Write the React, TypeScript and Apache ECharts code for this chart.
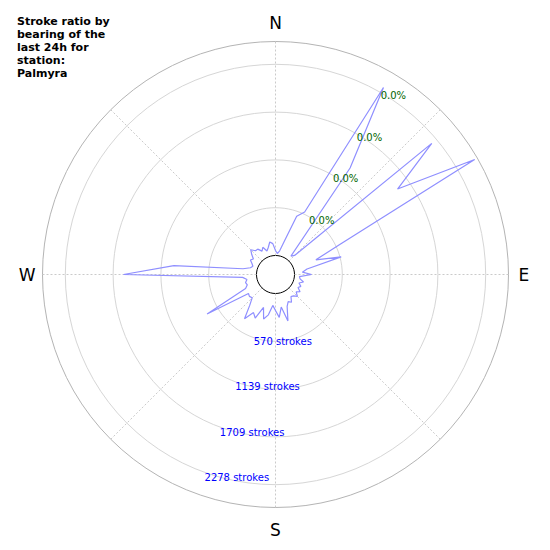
import { useEffect, useRef } from 'react';
import * as echarts from 'echarts';

// chart texts
const titleText = 'Stroke ratio by\nbearing of the\nlast 24h for\nstation:\nPalmyra';
const compassLabels: Record<number, string> = { 0: 'N', 90: 'E', 180: 'S', 270: 'W' };

// bearing bins (degrees, clockwise from north)
const bearings = [
  0, 5, 10, 15, 20, 25, 30, 35, 40, 45, 50, 55,
  60, 65, 70, 75, 80, 85, 90, 95, 100, 105, 110, 115,
  120, 125, 130, 135, 140, 145, 150, 155, 160, 165, 170, 175,
  180, 185, 190, 195, 200, 205, 210, 215, 220, 225, 230, 235,
  240, 245, 250, 255, 260, 265, 270, 275, 280, 285, 290, 295,
  300, 305, 310, 315, 320, 325, 330, 335, 340, 345, 350, 355,
];

// strokes per bin
const strokes = [
  60, 24, 60, 191, 512, 596, 2347, 1323, 60, 95, 2204, 1549,
  2514, 608, 286, 584, 155, 95, 203, 60, 71, 119, 71, 107,
  83, 131, 95, 143, 107, 95, 155, 131, 179, 346, 167, 286,
  203, 143, 262, 322, 191, 346, 298, 417, 250, 167, 179, 167,
  715, 167, 131, 143, 119, 167, 1585, 989, 167, 83, 60, 83,
  119, 95, 143, 191, 143, 143, 95, 131, 71, 107, 167, 143,
];

// radial rings
const ringValues = [569.5, 1139, 1708.5, 2278];
const ringPercents = ['0.0%', '0.0%', '0.0%', '0.0%'];
const radiusMax = 2550;
const ringStep = 569.5;

const compassStyle = { fontSize: 17, color: '#000', fontFamily: 'DejaVu Sans' };

export default function App() {
  const box = useRef<HTMLDivElement>(null);

  useEffect(() => {
    if (!box.current) return;
    const chart = echarts.init(box.current, null, { renderer: 'svg' });

    const outline = bearings.map((b, i) => [strokes[i], b]);
    outline.push([strokes[0], 360]);

    chart.setOption({
      animation: false,
      textStyle: { fontFamily: 'DejaVu Sans' },
      title: {
        text: titleText,
        left: 12,
        top: 10,
        textStyle: { fontSize: 11, fontWeight: 'bold', lineHeight: 13, color: '#000' },
      },
      polar: { center: [275.5, 274.5], radius: [19, 233] },
      angleAxis: {
        type: 'value',
        min: 0,
        max: 360,
        interval: 45,
        startAngle: 90,
        clockwise: true,
        axisLine: { show: false },
        axisTick: { show: false },
        axisLabel: {
          margin: 7,
          ...compassStyle,
          formatter: (v: number) => {
            const t = compassLabels[v];
            return t ? `{${t.toLowerCase()}|${t}}` : '';
          },
          rich: {
            n: { ...compassStyle, padding: [0, 0, 3, 0] },
            e: { ...compassStyle, padding: [0, 0, 0, 3] },
            s: { ...compassStyle, padding: [7, 0, 0, 0] },
            w: { ...compassStyle },
          },
        },
        splitLine: { lineStyle: { color: '#bdbdbd', type: [2, 2], width: 0.8 } },
      },
      radiusAxis: {
        type: 'value',
        min: 0,
        max: radiusMax,
        interval: ringStep,
        axisLine: { show: false },
        axisTick: { show: false },
        axisLabel: { show: false },
        splitLine: {
          show: true,
          lineStyle: {
            color: ['#000000', '#d6d6d6', '#d6d6d6', '#d6d6d6', '#d6d6d6', '#b4b4b4'],
            width: 1,
          },
        },
      },
      series: [
        {
          type: 'line',
          coordinateSystem: 'polar',
          data: outline,
          symbol: 'none',
          lineStyle: { color: '#8f8fff', width: 1.2 },
          z: 3,
        },
        {
          // stroke count labels
          type: 'scatter',
          coordinateSystem: 'polar',
          symbolSize: 0,
          itemStyle: { opacity: 1 },
          data: ringValues.map((v) => [v, 198.7]),
          label: {
            show: true,
            position: 'inside',
            offset: [28.7, 3.8],
            color: '#0000ff',
            fontSize: 10,
            formatter: (p: any) => `${Math.round(p.value[0])} strokes`,
          },
          z: 4,
        },
        {
          // ratio labels
          type: 'scatter',
          coordinateSystem: 'polar',
          symbolSize: 0,
          itemStyle: { opacity: 1 },
          data: ringValues.map((v) => [v, 30]),
          label: {
            show: true,
            position: 'inside',
            offset: [12.8, 3.4],
            color: '#006400',
            fontSize: 10,
            formatter: (p: any) => ringPercents[p.dataIndex],
          },
          z: 4,
        },
      ],
    });

    return () => chart.dispose();
  }, []);

  return (
    <div
      ref={box}
      style={{ position: 'fixed', left: 0, top: 0, width: 550, height: 550, background: '#fff' }}
    />
  );
}
